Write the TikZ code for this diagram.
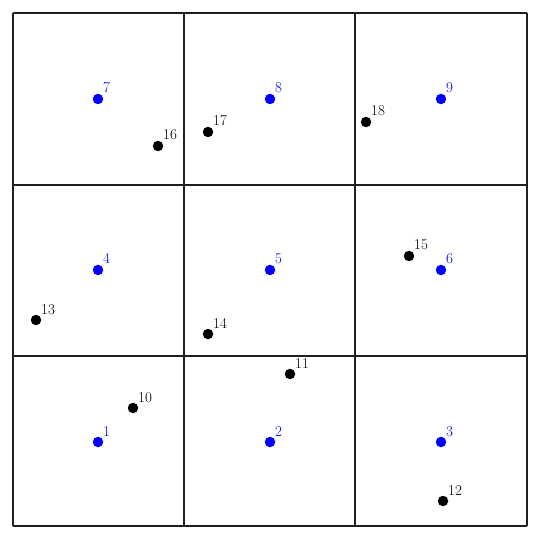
\documentclass[tikz,border=0pt]{standalone}
\begin{document}
\begin{tikzpicture}[x=1pt,y=-1pt,
  gridline/.style={line width=2.2pt,draw=black!88},
  cdot/.style={circle,fill=blue,inner sep=0pt,minimum size=10.5pt},
  pdot/.style={circle,fill=black,inner sep=0pt,minimum size=10.5pt},
  clab/.style={text=blue,font=\fontsize{15}{17}\selectfont,inner sep=0pt,anchor=base west},
  plab/.style={text=black,font=\fontsize{15}{17}\selectfont,inner sep=0pt,anchor=base west}]
\useasboundingbox (0,0) rectangle (538,537);
\foreach \v in {13,184,355,527} {
  \draw[gridline] (\v,13) -- (\v,526);
}
\foreach \v in {13,185,356,526} {
  \draw[gridline] (13,\v) -- (527,\v);
}
\foreach \n/\x/\y in {1/98/442,2/270/442,3/441/442,4/98/270,5/270/270,6/441/270,7/98/99,8/270/99,9/441/99} {
  \node[cdot] (c\n) at (\x,\y) {};
  \node[clab] (lc\n) at ([xshift=5pt,yshift=6pt]c\n.center) {\n};
}
\foreach \n/\x/\y in {10/133/408,11/290/374,12/443/501,13/36/320,14/208/334,15/409/256,16/158/146,17/208/132,18/366/122} {
  \node[pdot] (p\n) at (\x,\y) {};
  \node[plab] (lp\n) at ([xshift=5pt,yshift=6pt]p\n.center) {\n};
}
\end{tikzpicture}
\end{document}
